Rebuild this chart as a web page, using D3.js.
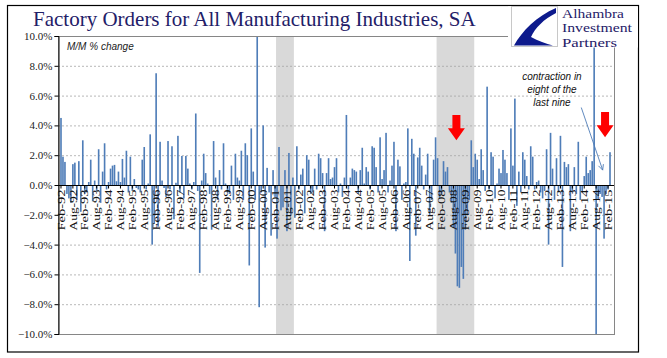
<!DOCTYPE html>
<html><head><meta charset="utf-8">
<script src="https://cdn.jsdelivr.net/npm/d3@7"></script>
<style>body{margin:0;background:#fff}svg{display:block}</style>
</head><body><svg id="c" width="667" height="358"></svg>
<script>
// ---- data ----
const monthNames = ["Jan","Feb","Mar","Apr","May","Jun","Jul","Aug","Sep","Oct","Nov","Dec"];
const firstYear = 1992, firstMonth = 1; // Feb-92
const values = [
 4.5,1.9,1.55,-0.6,-0.9,-1.2,1.4,1.5,-1.0,1.6,-1.8,3.0,
 -0.6,-0.5,0.2,1.7,-1.1,0.3,-0.4,2.4,-1.2,0.9,2.8,-0.3,
 0.2,1.1,1.3,1.35,0.25,0.9,0.2,1.75,0.5,2.3,-0.5,1.9,
 -0.4,0.4,-0.2,-0.3,-0.5,1.7,2.55,-0.3,0.1,3.4,-4.0,-2.6,
 7.5,-2.8,2.9,0.3,-0.2,-0.8,2.95,-0.3,2.6,-2.3,0.15,3.3,
 -0.5,1.95,-0.9,1.95,1.1,0.1,-0.3,0.2,4.8,-0.4,-5.9,0.3,
 2.1,0.8,0.1,-0.6,-3.0,2.95,0.5,-1.0,1.0,-0.3,2.8,0.1,
 -0.5,-0.6,1.3,-1.0,2.1,0.5,0.3,2.3,-1.0,2.8,2.0,-5.4,
 3.8,0.9,-1.0,10.5,-8.2,-0.5,4.0,-4.2,1.15,-0.5,-3.4,1.0,
 -0.8,-3.6,2.55,-1.7,-1.5,1.0,-3.1,2.15,-2.0,0.5,-2.2,2.6,
 -0.3,0.7,1.1,-1.9,2.0,1.7,-0.6,-0.5,1.1,-0.3,2.1,1.8,
 0.8,-3.1,0.8,1.8,0.4,0.5,1.2,1.8,-0.5,0.1,-0.8,0.5,
 4.7,-0.3,0.5,1.1,1.0,0.9,-0.6,1.0,2.5,0.1,1.2,0.9,
 -0.3,2.6,2.5,1.2,-0.5,3.2,0.4,1.0,3.5,-0.5,0.3,1.3,
 2.9,-3.1,1.7,1.25,-1.0,0.1,0.2,3.8,-5.1,3.1,2.1,-3.4,
 1.85,2.5,1.3,-0.3,0.7,2.1,-2.0,-1.0,1.7,3.2,1.8,-0.9,
 -0.6,1.6,0.9,1.2,-0.5,-1.2,-2.9,-4.6,-6.8,-6.9,-5.5,-6.3,
 -3.0,-2.0,-1.0,3.0,1.2,2.1,1.7,0.4,2.4,1.0,-0.4,6.6,
 -0.3,2.2,1.9,-0.9,0.1,1.1,0.8,2.35,1.7,0.8,-1.0,3.8,
 1.3,5.8,-1.4,0.9,-0.5,2.2,1.7,0.6,-0.3,2.6,1.9,-0.3,
 0.2,0.3,-0.5,-0.9,-0.4,2.4,-4.0,3.5,1.1,-1.0,1.8,-0.5,
 3.3,-5.5,1.55,1.2,1.4,-3.1,-0.5,1.2,-0.6,2.9,-1.0,-0.5,
 0.6,1.9,0.8,1.0,1.6,10.5,-10.1,-1.0,-0.6,-0.8,-3.6,-0.6,
 -0.3,2.2
];
const categories = values.map((v,i) => {
  const m = firstMonth + i;
  return monthNames[m % 12] + "-" + String((firstYear + Math.floor(m/12)) % 100).padStart(2,"0");
});
const tickLabels = categories.filter(c => c.startsWith("Feb") || c.startsWith("Aug"));
const yTickValues = [-10,-8,-6,-4,-2,0,2,4,6,8,10];
const gridValues = [-8,-6,-4,-2,2,4,6,8];
const recessions = [["Mar-01","Nov-01"],["Dec-07","Jun-09"]];
const arrowMarks = [{at:"Sep-08", top:4.7, tip:3.0},{at:"Dec-14", top:4.9, tip:3.2}];
const noteLines = ["contraction in","eight of the","last nine"];
const logoLines = ["Alhambra","Investment","Partners"];
const logoWidths = [62,70,55];

// ---- chart ----
const svg = d3.select("#c");
const plot = {l:58, r:614, t:36, b:334};
const x = d3.scaleBand().domain(categories).range([60, 611]).paddingInner(0.18).paddingOuter(0.09);
const y = d3.scaleLinear().domain([-10,10]).range([plot.b, plot.t]);
const step = x.step();
const xc = i => x(categories[0]) + x.bandwidth()/2 + i*step;

svg.append("rect").attr("width",667).attr("height",358).attr("fill","#fff");
// outer frame
svg.append("rect").attr("x",7.5).attr("y",5.5).attr("width",631).attr("height",346.5)
  .attr("fill","none").attr("stroke","#000").attr("stroke-width",1.2);

// recession shading
recessions.forEach(([a,b]) => {
  const x0 = x(a) - (step - x.bandwidth())/2, x1 = x(b) + x.bandwidth() + (step - x.bandwidth())/2;
  svg.append("rect").attr("x",x0).attr("y",plot.t).attr("width",x1-x0).attr("height",plot.b-plot.t).attr("fill","#d9d9d9");
});

// gridlines
svg.append("g").selectAll("line").data(gridValues).join("line")
  .attr("x1",plot.l).attr("x2",plot.r).attr("y1",d=>y(d)+0.5).attr("y2",d=>y(d)+0.5)
  .attr("stroke","#a6a6a6").attr("stroke-width",0.8).attr("stroke-dasharray","2,2");

// bars
svg.append("g").selectAll("rect").data(values).join("rect")
  .attr("x",(d,i)=>x(categories[i])).attr("width",x.bandwidth())
  .attr("y",d=>y(Math.min(10,Math.max(d,0)))).attr("height",d=>Math.abs(y(Math.max(-10,Math.min(d,10)))-y(0)))
  .attr("fill","#4f7db8");

// plot border
svg.append("rect").attr("x",plot.l+0.5).attr("y",plot.t+0.5).attr("width",plot.r-plot.l).attr("height",plot.b-plot.t)
  .attr("fill","none").attr("stroke","#868686").attr("stroke-width",1);

// y axis
const yAxis = d3.axisLeft(y).tickValues(yTickValues).tickSize(4).tickFormat(d=>d3.format(".1f")(d)+"%");
const gy = svg.append("g").attr("transform",`translate(${plot.l+0.5},0)`).call(yAxis);
gy.select(".domain").attr("stroke","#000");
gy.selectAll(".tick line").attr("stroke","#000");
gy.selectAll("text").attr("font-family","'Liberation Serif','Times New Roman',serif").attr("font-size",11).attr("fill","#222").attr("x",-6);

// x axis at zero
const xAxis = d3.axisBottom(x).tickValues(tickLabels).tickSize(3).tickSizeOuter(0);
const gx = svg.append("g").attr("transform",`translate(0,${y(0)+0.5})`).call(xAxis);
gx.select(".domain").attr("stroke","#000").attr("d",`M${plot.l},0H${plot.r}`);
gx.selectAll(".tick line").attr("stroke","#000");
gx.selectAll("text")
  .attr("font-family","'Liberation Serif','Times New Roman',serif").attr("font-size",10.5).attr("fill","#111")
  .attr("text-anchor","end").attr("transform","rotate(-90)")
  .attr("x",-4).attr("y",0).attr("dy","0.35em")
  .attr("textLength",41).attr("lengthAdjust","spacingAndGlyphs");

// red arrows
arrowMarks.forEach(a => {
  const cx = x(a.at) + x.bandwidth()/2 + step/2;
  const yt = y(a.top), yp = y(a.tip), yh = yp - 12;
  svg.append("path").attr("d",`M${cx-4},${yt}H${cx+4}V${yh}H${cx+8.5}L${cx},${yp}L${cx-8.5},${yh}H${cx-4}Z`).attr("fill","#ff0000");
});

// annotation
const noteX = xc(247.7);
const note = svg.append("text").attr("text-anchor","middle")
  .attr("font-family","'Liberation Sans',Arial,sans-serif").attr("font-style","italic").attr("font-size",10)
  .attr("fill","#111");
note.selectAll("tspan").data(noteLines).join("tspan")
  .attr("x",noteX).attr("y",(d,i)=>y(7.05 - i*0.87)).text(d=>d);
const lx1 = xc(262.5), ly1 = y(5.2), lx2 = xc(273.3), ly2 = y(1.0);
svg.append("line").attr("x1",lx1).attr("y1",ly1).attr("x2",lx2).attr("y2",ly2).attr("stroke","#4f7db8").attr("stroke-width",0.9);
const ang = Math.atan2(ly2-ly1, lx2-lx1);
const ah = 6;
svg.append("path").attr("d",
  `M${lx2-ah*Math.cos(ang-0.45)},${ly2-ah*Math.sin(ang-0.45)}L${lx2},${ly2}L${lx2-ah*Math.cos(ang+0.45)},${ly2-ah*Math.sin(ang+0.45)}`)
  .attr("fill","none").attr("stroke","#4f7db8").attr("stroke-width",0.9);

// sub label
svg.append("text").attr("x",67).attr("y",50).attr("font-family","'Liberation Sans',Arial,sans-serif")
  .attr("font-style","italic").attr("font-size",10).attr("fill","#222").text("M/M % change");

// title
svg.append("text").attr("x",33).attr("y",26).attr("font-family","'Liberation Serif','Times New Roman',serif")
  .attr("font-size",21).attr("fill","#1f2068").text("Factory Orders for All Manufacturing Industries, SA");

// logo
const lg = svg.append("g");
lg.append("rect").attr("x",508).attr("y",6.5).attr("width",130).attr("height",41).attr("fill","#fff");
lg.append("rect").attr("x",511.5).attr("y",6.5).attr("width",46).attr("height",40).attr("fill","#fff").attr("stroke","#c8c8c8");
lg.append("path").attr("d","M514,45.5 C522,31 537,16 556,8 L556,13 C544,19 535,28 531,37 C538,41 546,43.5 553,45.5 Z").attr("fill","#0d1a8c");
lg.selectAll("text.logo").data(logoLines).join("text").attr("class","logo")
  .attr("font-family","'Liberation Serif','Times New Roman',serif")
  .attr("font-size",12.5).attr("fill","#1f2068")
  .attr("x",562).attr("y",(d,i)=>18+i*14.3)
  .attr("textLength",(d,i)=>logoWidths[i]).attr("lengthAdjust","spacingAndGlyphs")
  .text(d=>d);
</script></body></html>
